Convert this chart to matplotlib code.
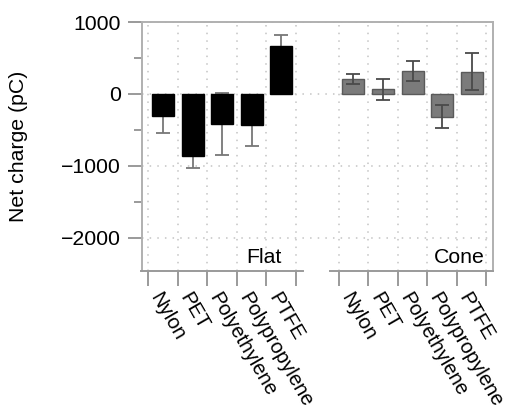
import matplotlib.pyplot as plt
import numpy as np

plt.rcParams['font.family'] = ['Liberation Sans', 'DejaVu Sans']

materials = ["Nylon", "PET", "Polyethylene", "Polypropylene", "PTFE"]
flat_values = [-307, -860, -420, -432, 660]
flat_errors = [230, 170, 435, 290, 160]
cone_values = [205, 65, 322, -316, 312]
cone_errors = [72, 142, 140, 158, 255]
group_labels = ["Flat", "Cone"]

FS = 15.3
GRAY = "#9a9a9a"

fig = plt.figure(figsize=(5.05, 4.16), dpi=100)
ax = fig.add_axes([142 / 505, 145 / 416, 351 / 505, 249 / 416])

n = len(materials)
flat_x = np.arange(n)
cone_offset = n + 1.44
cone_x = flat_x + cone_offset
width = 0.74

# bars; flat error bars sit under the black bars, cone ones on top
ax.errorbar(flat_x, flat_values, yerr=flat_errors, fmt='none', ecolor="#777777",
            elinewidth=1.3, capsize=5, capthick=1.3, zorder=2)
ax.bar(flat_x, flat_values, width, color="black", edgecolor="black", zorder=3)
ax.bar(cone_x, cone_values, width, color="#7b7b7b", edgecolor="#5a5a5a",
       linewidth=1, zorder=3)
ax.errorbar(cone_x, cone_values, yerr=cone_errors, fmt='none', ecolor="#4a4a4a",
            elinewidth=1.3, capsize=5, capthick=1.3, zorder=4)

ax.set_xlim(-0.71, cone_x[-1] + 0.72)
ax.set_ylim(-2460, 1000)

# ticks at bar boundaries, labels at bar centers
edges = np.concatenate([np.arange(n + 1) - 0.5, np.arange(n + 1) - 0.5 + cone_offset])
ax.set_xticks(edges)
ax.set_xticklabels([])
ax.set_xticks(np.concatenate([flat_x, cone_x]), materials + materials, minor=True,
              rotation=-60, ha='left', va='top', rotation_mode='anchor', fontsize=14.6)
ax.tick_params(axis='x', which='major', length=11, width=1.4, color=GRAY)
ax.tick_params(axis='x', which='minor', length=0, pad=13)

ax.set_yticks([-2000, -1000, 0, 1000])
ax.set_yticks([-1500, -500, 500], minor=True)
ax.set_yticklabels(["\u22122000", "\u22121000", "0", "1000"], fontsize=FS)
ax.tick_params(axis='y', which='major', length=10, width=1.4, color=GRAY, pad=5)
ax.tick_params(axis='y', which='minor', length=6, width=1.4, color=GRAY)

ax.grid(True, which='major', color="#c4c4c4", linestyle=(0, (1, 4)), linewidth=1.1)
ax.set_axisbelow(True)

for side in ["top", "right", "left"]:
    ax.spines[side].set_color("#b0b0b0")
    ax.spines[side].set_linewidth(1.4)
ax.spines["bottom"].set_visible(False)

# broken bottom axis, one piece per group
ybot = ax.get_ylim()[0]
ax.plot([edges[0] - 0.25, edges[n] + 0.25], [ybot, ybot], color=GRAY, lw=1.4,
        clip_on=False, zorder=5)
ax.plot([edges[n + 1] - 0.3, ax.get_xlim()[1]], [ybot, ybot], color=GRAY, lw=1.4,
        clip_on=False, zorder=5)

ax.set_ylabel("Net charge (pC)", fontsize=FS)
ax.yaxis.set_label_coords(-0.325, 0.5)

ax.text(flat_x[-1] + 0.02, -2350, group_labels[0], ha='right', va='baseline', fontsize=FS)
ax.text(cone_x[-1] + 0.45, -2350, group_labels[1], ha='right', va='baseline', fontsize=FS)

fig.savefig("out.png", dpi=100)
